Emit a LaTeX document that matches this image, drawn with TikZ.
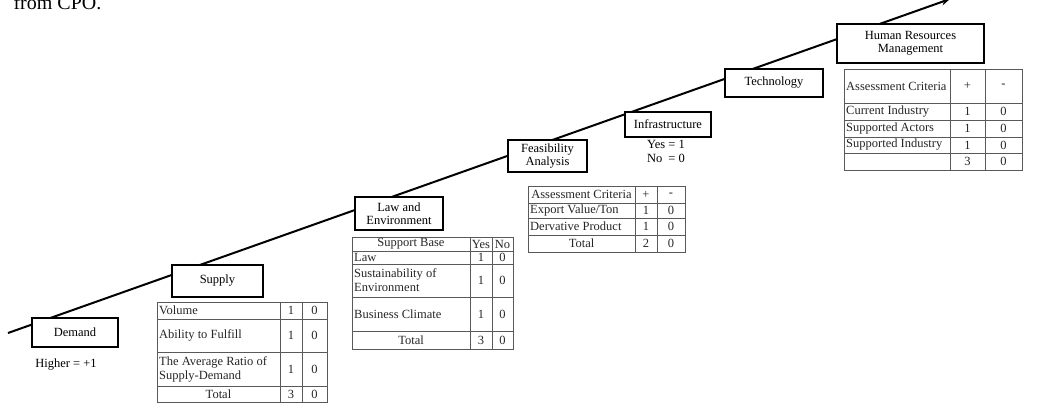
\documentclass[tikz,border=0pt]{standalone}
\usepackage{fontspec}
\setmainfont{Liberation Serif}
\usetikzlibrary{arrows.meta,positioning}

\begin{document}
\begin{tikzpicture}[x=1pt, y=-1pt,
        stage/.style={rectangle, draw=black, line width=1.3pt, fill=white, font=\fontsize{12.5}{13.5}\selectfont, align=center, inner sep=1pt},
        cell/.style={font=\fontsize{12.5}{14}\selectfont, text=black!85, inner sep=2pt},
        lcell/.style={cell, anchor=west, align=left},
        grid/.style={draw=black!65, line width=0.7pt},
        trend/.style={line width=2pt, -{Stealth[length=9pt, width=7pt]}},
        note/.style={font=\fontsize{12.5}{14}\selectfont},
      ]
      \useasboundingbox (0,0) rectangle (1045,408);
      \node [anchor=base west, font=\fontsize{20}{22}\selectfont] (caption) at (10,9) {from CPO.};

      % Rising line behind the stages
      \coordinate (tstart) at (8,333);
      \coordinate (tend) at (950,-1);
      \draw [trend] (tstart) -- (tend);

      % Stages
      \node [stage, minimum width=86pt, minimum height=29pt] (demand) at (75,332.5) {Demand};
      \node [stage, minimum width=91pt, minimum height=32pt] (supply) at (217.5,281) {Supply};
      \node [stage, minimum width=88pt, minimum height=33pt] (law) at (399,213.5) {Law and\\Environment};
      \node [stage, minimum width=79pt, minimum height=32pt] (feasib) at (547.5,156) {Feasibility\\Analysis};
      \node [stage, minimum width=86pt, minimum height=25pt] (infra) at (668,124.5) {Infrastructure};
      \node [stage, minimum width=98pt, minimum height=28pt] (tech) at (774,83) {Technology};
      \node [stage, minimum width=147pt, minimum height=39pt] (hrm) at (910.5,43.5) {Human Resources\\Management};

      \node [note] (higher) at (66,365) {Higher = +1};
      \node [note] (infravals) at (666,153) {\begin{tabular}{@{}l@{\ }l@{}}Yes &= 1\\No &= 0\end{tabular}};

      % Supply table
      \draw [grid] (157,302) rectangle (327,402);
      \foreach \y in {319,352,386} \draw [grid] (157,\y) -- (327,\y);
      \foreach \x in {280,302} \draw [grid] (\x,302) -- (\x,402);
      \foreach \y/\lab/\n in {310.5/Volume/1, 335.5/Ability to Fulfill/2, 369/{The Average Ratio of\\Supply-Demand}/3} {
        \node [lcell] (srow\n) at (157,\y) {\lab};
        \node [cell] (syes\n) at (291,\y) {1};
        \node [cell] (sno\n) at (314.5,\y) {0};
      }
      \node [cell] (stot) at (218.5,394) {Total};
      \node [cell] (stotyes) at (291,394) {3};
      \node [cell] (stotno) at (314.5,394) {0};

      % Law and environment table
      \draw [grid] (352,237) rectangle (513,349);
      \foreach \y in {251,264,297,331} \draw [grid] (352,\y) -- (513,\y);
      \foreach \x in {470,492} \draw [grid] (\x,237) -- (\x,349);
      \node [cell] (lhead) at (411,244) {Support Base};
      \node [cell] (lheadyes) at (481,244) {Yes};
      \node [cell] (lheadno) at (502.5,244) {No};
      \foreach \y/\lab/\n in {257.5/Law/1, 280.5/{Sustainability of\\Environment}/2, 314/Business Climate/3} {
        \node [lcell] (lrow\n) at (352,\y) {\lab};
        \node [cell] (lyes\n) at (481,\y) {1};
        \node [cell] (lno\n) at (502.5,\y) {0};
      }
      \node [cell] (ltot) at (411,340) {Total};
      \node [cell] (ltotyes) at (481,340) {3};
      \node [cell] (ltotno) at (502.5,340) {0};

      % Feasibility table
      \draw [grid] (528,186) rectangle (685,252);
      \foreach \y in {203,218,235} \draw [grid] (528,\y) -- (685,\y);
      \foreach \x in {635,657} \draw [grid] (\x,186) -- (\x,252);
      \node [cell] (fhead) at (581.5,194.5) {Assessment Criteria};
      \node [cell] (fheadp) at (646,194.5) {+};
      \node [cell] (fheadm) at (671,194.5) {-};
      \foreach \y/\lab/\n in {210.5/{Export Value/Ton}/1, 226.5/{Dervative Product}/2} {
        \node [lcell] (frow\n) at (528,\y) {\lab};
        \node [cell] (fyes\n) at (646,\y) {1};
        \node [cell] (fno\n) at (671,\y) {0};
      }
      \node [cell] (ftot) at (581.5,243.5) {Total};
      \node [cell] (ftotyes) at (646,243.5) {2};
      \node [cell] (ftotno) at (671,243.5) {0};

      % Human resources table
      \draw [grid] (844,69) rectangle (1022,170);
      \foreach \y in {103,120,137,153} \draw [grid] (844,\y) -- (1022,\y);
      \foreach \x in {950,985} \draw [grid] (\x,69) -- (\x,170);
      \node [lcell] (hhead) at (844,86) {Assessment Criteria};
      \node [cell] (hheadp) at (967.5,86) {+};
      \node [cell] (hheadm) at (1003.5,86) {-};
      \foreach \y/\lab/\n in {111.5/Current Industry/1, 128.5/Supported Actors/2, 145/Supported Industry/3} {
        \node [lcell] (hrow\n) at (844,\y) {\lab};
        \node [cell] (hyes\n) at (967.5,\y) {1};
        \node [cell] (hno\n) at (1003.5,\y) {0};
      }
      \node [cell] (htotyes) at (967.5,161.5) {3};
      \node [cell] (htotno) at (1003.5,161.5) {0};
    \end{tikzpicture}
\end{document}
